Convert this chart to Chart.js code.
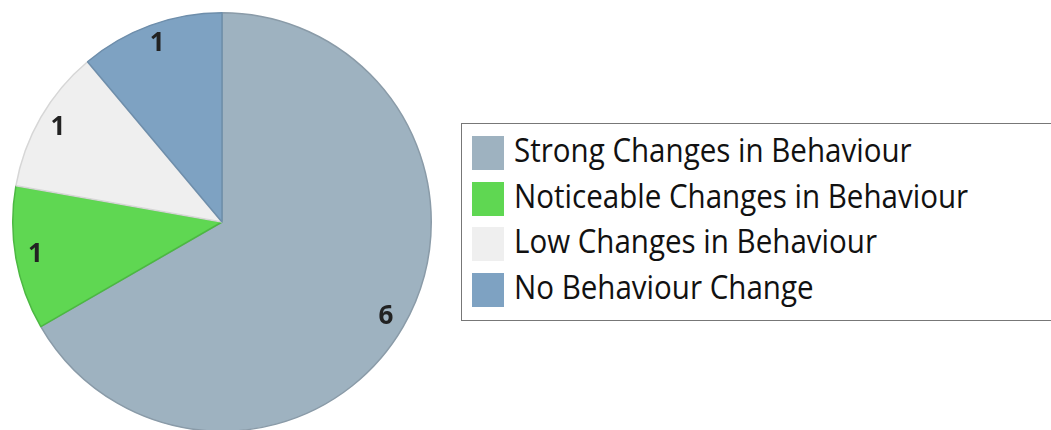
<!DOCTYPE html>
<html>
<head>
<meta charset="utf-8">
<script src="https://cdn.jsdelivr.net/npm/chart.js@4"></script>
<style>
  html, body { margin: 0; padding: 0; background: #fff; }
  body { width: 1051px; height: 430px; overflow: hidden; position: relative; font-family: "Open Sans", sans-serif; }
  #pieWrap { position: absolute; left: 0; top: 0; width: 444px; height: 444px; }
  #legend {
    position: absolute; left: 461px; top: 123px; width: 720px; height: 196px;
    border: 1.5px solid #777; box-sizing: content-box;
  }
  .item { position: absolute; left: 10px; height: 34px; }
  .sw { position: absolute; left: 0; top: 0; width: 32px; height: 34px; }
  .tx {
    position: absolute; left: 42px; top: -9px; font-size: 32px; line-height: 46px; color: #111;
    white-space: nowrap; transform: scaleX(0.923); transform-origin: 0 50%;
  }
</style>
</head>
<body>
<div id="pieWrap"><canvas id="pie" width="444" height="444"></canvas></div>
<div id="legend"></div>
<script>
const categories = [
  'Strong Changes in Behaviour',
  'Noticeable Changes in Behaviour',
  'Low Changes in Behaviour',
  'No Behaviour Change'
];
const counts = [6, 1, 1, 1];
const fillColors = ['#9eb2c0', '#5fd752', '#efefef', '#7ea2c2'];
const edgeColors = ['#8a9ba8', '#4cb842', '#d6d6d6', '#6e8eab'];

// Value labels placed inside each slice, near the rim
const sliceLabels = {
  id: 'sliceLabels',
  afterDatasetsDraw(chart) {
    const ctx = chart.ctx;
    const meta = chart.getDatasetMeta(0);
    ctx.save();
    ctx.font = 'bold 26px "Open Sans", sans-serif';
    ctx.fillStyle = '#222';
    ctx.textAlign = 'center';
    ctx.textBaseline = 'middle';
    meta.data.forEach((arc, i) => {
      const p = arc.getProps(['x', 'y', 'startAngle', 'endAngle', 'outerRadius'], true);
      const mid = (p.startAngle + p.endAngle) / 2;
      const r = p.outerRadius * 0.905;
      ctx.fillText(String(chart.data.datasets[0].data[i]), p.x + Math.cos(mid) * r, p.y + Math.sin(mid) * r);
    });
    ctx.restore();
  }
};

new Chart(document.getElementById('pie'), {
  type: 'pie',
  data: {
    labels: categories,
    datasets: [{
      data: counts,
      backgroundColor: fillColors,
      borderColor: edgeColors,
      borderWidth: 1.5
    }]
  },
  options: {
    responsive: false,
    animation: false,
    layout: { padding: 12 },
    plugins: { legend: { display: false }, tooltip: { enabled: false } }
  },
  plugins: [sliceLabels]
});

// Legend built from the same categories and colours
const legend = document.getElementById('legend');
categories.forEach((name, i) => {
  const item = document.createElement('div');
  item.className = 'item';
  item.style.top = (12 + i * 45.6) + 'px';
  const sw = document.createElement('div');
  sw.className = 'sw';
  sw.style.background = fillColors[i];
  const tx = document.createElement('div');
  tx.className = 'tx';
  tx.textContent = name;
  item.appendChild(sw);
  item.appendChild(tx);
  legend.appendChild(item);
});
</script>
</body>
</html>
